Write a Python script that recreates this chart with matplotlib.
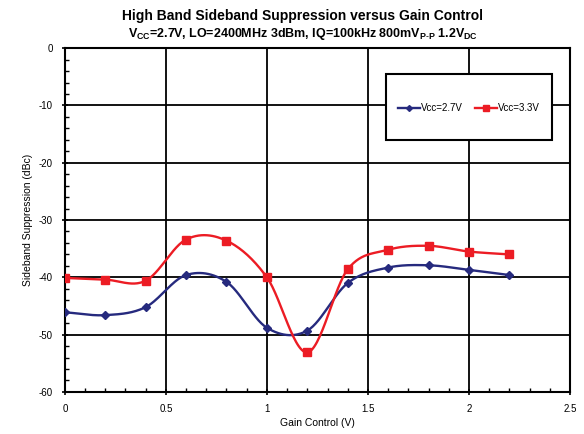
import numpy as np
import matplotlib
matplotlib.use('Agg')
import matplotlib.pyplot as plt
from matplotlib.patches import Rectangle

plt.rcParams['font.family'] = ['Liberation Sans', 'DejaVu Sans']
plt.rcParams['mathtext.fontset'] = 'custom'
plt.rcParams['mathtext.bf'] = 'Liberation Sans:bold'
plt.rcParams['mathtext.rm'] = 'Liberation Sans'
plt.rcParams['mathtext.default'] = 'bf'
plt.rcParams['axes.unicode_minus'] = False

# Data
gain_v = [0, 0.2, 0.4, 0.6, 0.8, 1.0, 1.2, 1.4, 1.6, 1.8, 2.0, 2.2]
supp_27 = [-46.1, -46.6, -45.2, -39.6, -40.8, -48.8, -49.3, -41.0, -38.3, -37.9, -38.7, -39.6]
supp_33 = [-40.1, -40.4, -40.6, -33.4, -33.6, -40.0, -53.1, -38.6, -35.2, -34.5, -35.5, -36.0]

labels = ['Vcc=2.7V', 'Vcc=3.3V']
colors = ['#262A7E', '#EC1C24']
markers = ['D', 's']
msizes = [4, 6]


def smooth(x, y, n=30):
    # Excel-style smoothed line (Catmull-Rom through the points)
    x = np.asarray(x, float)
    y = np.asarray(y, float)
    px = np.concatenate([[2 * x[0] - x[1]], x, [2 * x[-1] - x[-2]]])
    py = np.concatenate([[2 * y[0] - y[1]], y, [2 * y[-1] - y[-2]]])
    xs, ys = [], []
    t = np.linspace(0, 1, n)
    for i in range(1, len(px) - 2):
        for arr, out in ((px, xs), (py, ys)):
            p0, p1, p2, p3 = arr[i - 1], arr[i], arr[i + 1], arr[i + 2]
            out.extend(0.5 * ((2 * p1) + (-p0 + p2) * t
                              + (2 * p0 - 5 * p1 + 4 * p2 - p3) * t ** 2
                              + (-p0 + 3 * p1 - 3 * p2 + p3) * t ** 3))
    return xs, ys


fig = plt.figure(figsize=(5.84, 4.34), dpi=100)
ax = fig.add_axes([0.111, 0.097, 0.865, 0.792])

for ys, lab, c, m, ms in zip([supp_27, supp_33], labels, colors, markers, msizes):
    sx, sy = smooth(gain_v, ys)
    ax.plot(sx, sy, color=c, lw=1.7, zorder=3)
    ax.plot(gain_v, ys, ls='none', marker=m, ms=ms, color=c, zorder=4)
    ax.plot([], [], color=c, lw=1.7, marker=m, ms=ms - 1, label=lab)

ax.set_xlim(0, 2.5)
ax.set_ylim(-60, 0)
ax.set_xticks(np.arange(0, 2.51, 0.5))
ax.set_xticklabels(['0', '0.5', '1', '1.5', '2', '2.5'])
ax.set_xticks(np.arange(0, 2.51, 0.1), minor=True)
ax.set_yticks(np.arange(-60, 1, 10))
ax.set_yticks(np.arange(-60, 1, 2), minor=True)
ax.grid(True, which='major', color='black', lw=1.3)
for s in ax.spines.values():
    s.set_linewidth(1.5)
ax.tick_params(which='major', direction='inout', length=5, width=1.2, labelsize=7, pad=6)
ax.tick_params(which='minor', direction='in', length=3, width=1)

ax.set_xlabel('Gain Control (V)', fontsize=7.5, labelpad=3)
ax.set_ylabel('Sideband Suppression (dBc)', fontsize=7.5, labelpad=4)

# legend box
ax.add_patch(Rectangle((0.636, 0.733), 0.328, 0.191, transform=ax.transAxes,
                       facecolor='white', edgecolor='black', lw=1.5, zorder=5))
ax.legend(loc='center', bbox_to_anchor=(0.80, 0.826), ncol=2, frameon=False,
          fontsize=7, handlelength=2.2, handletextpad=0.1, columnspacing=1.3
          ).set_zorder(6)

fig.text(0.518, 0.955, 'High Band Sideband Suppression versus Gain Control',
         ha='center', fontsize=10, fontweight='bold')
fig.text(0.518, 0.915,
         r'V$_{CC}$=2.7V, LO=2400MHz 3dBm, IQ=100kHz 800mV$_{P\text{-}P}$ 1.2V$_{DC}$',
         ha='center', fontsize=9, fontweight='bold')

fig.savefig('out.png', dpi=100)
